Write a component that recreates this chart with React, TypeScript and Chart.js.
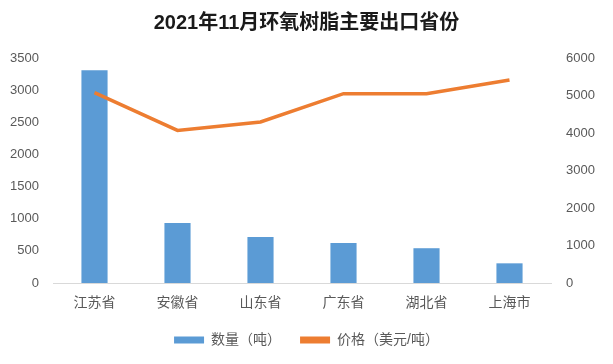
import React, { useEffect, useRef } from "react";
import { Chart, registerables } from "chart.js";

Chart.register(...registerables);

const title = "2021年11月环氧树脂主要出口省份";
const categories = ["江苏省", "安徽省", "山东省", "广东省", "湖北省", "上海市"];
const quantityLabel = "数量（吨）";
const priceLabel = "价格（美元/吨）";
const quantity = [3310, 935, 716, 622, 541, 306];
const price = [5075, 4070, 4295, 5050, 5050, 5415];
const leftTicks = { min: 0, max: 3500, step: 500 };
const rightTicks = { min: 0, max: 6000, step: 1000 };

const BLUE = "#5B9BD5";
const ORANGE = "#ED7D31";
const TEXT = "#595959";
const FONT = '"Liberation Sans", "Noto Sans CJK SC", sans-serif';

export default function App() {
  const ref = useRef<HTMLCanvasElement | null>(null);

  useEffect(() => {
    if (!ref.current) return;
    const chart = new Chart(ref.current, {
      type: "bar",
      data: {
        labels: categories,
        datasets: [
          {
            type: "bar",
            label: quantityLabel,
            data: quantity,
            backgroundColor: BLUE,
            yAxisID: "y",
            order: 2,
            barPercentage: 0.315,
            categoryPercentage: 1,
          },
          {
            type: "line",
            label: priceLabel,
            data: price,
            borderColor: ORANGE,
            backgroundColor: ORANGE,
            borderWidth: 3.5,
            pointRadius: 0,
            tension: 0,
            yAxisID: "y1",
            order: 1,
          } as any,
        ],
      },
      options: {
        animation: false,
        responsive: true,
        maintainAspectRatio: false,
        layout: { padding: { left: 0, right: 0, top: 0, bottom: 7 } },
        plugins: {
          title: {
            display: true,
            text: title,
            color: "#1a1a1a",
            font: { family: FONT, size: 20, weight: "bold" },
            padding: { top: 11, bottom: 23 },
          },
          legend: {
            position: "bottom",
            labels: {
              color: TEXT,
              font: { family: FONT, size: 14 },
              boxWidth: 30,
              boxHeight: 7,
              padding: 19,
              generateLabels: (c: any) =>
                c.data.datasets.map((ds: any, i: number) => ({
                  text: ds.label,
                  fillStyle: i === 0 ? BLUE : ORANGE,
                  strokeStyle: i === 0 ? BLUE : ORANGE,
                  lineWidth: 0,
                  hidden: false,
                  datasetIndex: i,
                  fontColor: TEXT,
                })),
            },
          },
          tooltip: { enabled: false },
        },
        scales: {
          x: {
            grid: { display: true, drawOnChartArea: false, drawTicks: false, color: "transparent" },
            border: { display: true, color: "#d9d9d9", width: 1 },
            ticks: { color: TEXT, font: { family: FONT, size: 14 }, padding: 12 },
            afterFit: (s: any) => {
              s.height = 31;
            },
          },
          y: {
            position: "left",
            min: leftTicks.min,
            max: leftTicks.max,
            grid: { display: false, drawTicks: false },
            border: { display: false },
            ticks: {
              stepSize: leftTicks.step,
              color: TEXT,
              font: { family: FONT, size: 13 },
              padding: 14,
              callback: (v: any) => String(v),
            },
            afterFit: (s: any) => {
              s.width = 53;
            },
          },
          y1: {
            position: "right",
            min: rightTicks.min,
            max: rightTicks.max,
            grid: { display: false, drawTicks: false },
            border: { display: false },
            ticks: {
              stepSize: rightTicks.step,
              color: TEXT,
              font: { family: FONT, size: 13 },
              padding: 15,
              callback: (v: any) => String(v),
            },
            afterFit: (s: any) => {
              s.width = 62;
            },
          },
        },
      },
    });
    return () => chart.destroy();
  }, []);

  return (
    <div style={{ position: "fixed", left: 0, top: 0, width: 613, height: 364, background: "#fff" }}>
      <canvas ref={ref} />
    </div>
  );
}
